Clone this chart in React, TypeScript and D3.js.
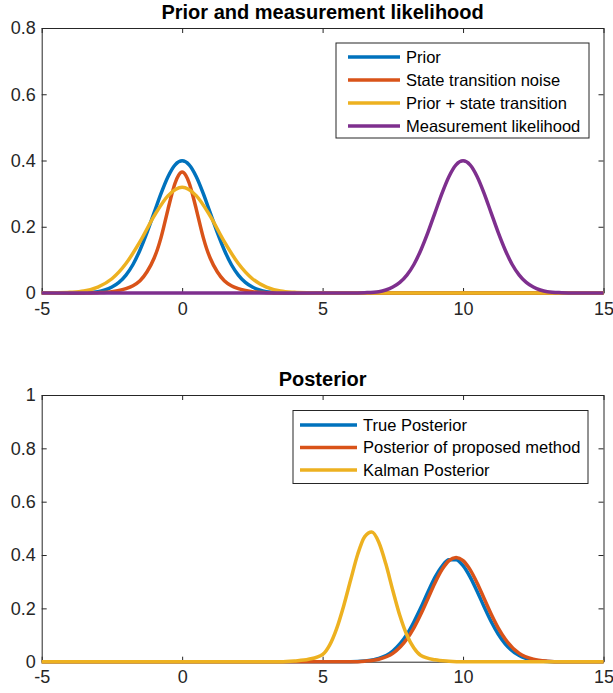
import React, { useRef, useEffect } from "react";
import * as d3 from "d3";

type Pt = [number, number];

// ---- top panel: prior and measurement likelihood ----
const priorPts: Pt[] = [
  [-5, 0], [-4, 0], [-3.5, 0.001], [-3, 0.004], [-2.75, 0.009], [-2.5, 0.018], [-2.25, 0.032],
  [-2, 0.054], [-1.75, 0.086], [-1.5, 0.13], [-1.25, 0.183], [-1, 0.242], [-0.75, 0.301],
  [-0.5, 0.352], [-0.25, 0.387], [0, 0.399], [0.25, 0.387], [0.5, 0.352], [0.75, 0.301],
  [1, 0.242], [1.25, 0.183], [1.5, 0.13], [1.75, 0.086], [2, 0.054], [2.25, 0.032],
  [2.5, 0.018], [2.75, 0.009], [3, 0.004], [3.5, 0.001], [4, 0], [15, 0],
];
const transitionPts: Pt[] = [
  [-5, 0], [-3.5, 0], [-3, 0.001], [-2.5, 0.004], [-2, 0.013], [-1.75, 0.022], [-1.5, 0.037],
  [-1.25, 0.064], [-1, 0.105], [-0.875, 0.133], [-0.75, 0.168], [-0.625, 0.21], [-0.5, 0.254],
  [-0.375, 0.296], [-0.25, 0.332], [-0.125, 0.356], [0, 0.365], [0.125, 0.356], [0.25, 0.332],
  [0.375, 0.296], [0.5, 0.254], [0.625, 0.21], [0.75, 0.168], [0.875, 0.133], [1, 0.105],
  [1.25, 0.064], [1.5, 0.037], [1.75, 0.022], [2, 0.013], [2.5, 0.004], [3, 0.001],
  [3.5, 0], [15, 0],
];
const priorPlusPts: Pt[] = [
  [-5, 0], [-4.5, 0.0005], [-4, 0.002], [-3.5, 0.006], [-3, 0.018], [-2.5, 0.043], [-2, 0.089],
  [-1.5, 0.155], [-1, 0.232], [-0.5, 0.294], [0, 0.319], [0.5, 0.294], [1, 0.232],
  [1.5, 0.155], [2, 0.089], [2.5, 0.043], [3, 0.018], [3.5, 0.006], [4, 0.002],
  [4.5, 0.0005], [5, 0], [15, 0],
];
const measurementPts: Pt[] = [
  [-5, 0], [6, 0], [6.5, 0.001], [7, 0.004], [7.25, 0.009], [7.5, 0.018], [7.75, 0.032],
  [8, 0.054], [8.25, 0.086], [8.5, 0.13], [8.75, 0.183], [9, 0.242], [9.25, 0.301],
  [9.5, 0.352], [9.75, 0.387], [10, 0.399], [10.25, 0.387], [10.5, 0.352], [10.75, 0.301],
  [11, 0.242], [11.25, 0.183], [11.5, 0.13], [11.75, 0.086], [12, 0.054], [12.25, 0.032],
  [12.5, 0.018], [12.75, 0.009], [13, 0.004], [13.5, 0.001], [14, 0], [15, 0],
];

// ---- bottom panel: posterior ----
const truePosteriorPts: Pt[] = [
  [-5, 0], [6, 0], [6.5, 0.003], [7, 0.012], [7.5, 0.04], [8, 0.102], [8.25, 0.149],
  [8.5, 0.203], [8.75, 0.261], [9, 0.316], [9.25, 0.358], [9.5, 0.382], [9.75, 0.382],
  [10, 0.36], [10.25, 0.318], [10.5, 0.264], [10.75, 0.206], [11, 0.151], [11.25, 0.104],
  [11.5, 0.067], [12, 0.023], [12.5, 0.006], [13, 0.001], [13.5, 0], [15, 0],
];
const proposedPts: Pt[] = [
  [-5, 0], [6, 0], [6.5, 0.002], [7, 0.009], [7.5, 0.031], [8, 0.085], [8.25, 0.127],
  [8.5, 0.179], [8.75, 0.237], [9, 0.295], [9.25, 0.345], [9.5, 0.379], [9.75, 0.391],
  [10, 0.379], [10.25, 0.345], [10.5, 0.295], [10.75, 0.237], [11, 0.179], [11.25, 0.127],
  [11.5, 0.085], [12, 0.031], [12.5, 0.009], [13, 0.002], [13.5, 0], [15, 0],
];
const kalmanPts: Pt[] = [
  [-5, 0], [3.5, 0], [4, 0.003], [4.5, 0.009], [5, 0.027], [5.25, 0.062], [5.5, 0.124],
  [5.75, 0.209], [6, 0.307], [6.25, 0.403], [6.5, 0.469], [6.75, 0.486], [7, 0.448],
  [7.25, 0.367], [7.5, 0.267], [7.75, 0.173], [8, 0.1], [8.25, 0.051], [8.5, 0.023],
  [9, 0.007], [9.5, 0.002], [10, 0], [15, 0],
];

const topNames = ["Prior", "State transition noise", "Prior + state transition", "Measurement likelihood"];
const bottomNames = ["True Posterior", "Posterior of proposed method", "Kalman Posterior"];
const xTicks = [-5, 0, 5, 10, 15];
const topYTicks = [0, 0.2, 0.4, 0.6, 0.8];
const bottomYTicks = [0, 0.2, 0.4, 0.6, 0.8, 1];
const colors = ["#0072BD", "#D95319", "#EDB120", "#7E2F8E"];

const FONT = "'Liberation Sans', Arial, Helvetica, sans-serif";
const INK = "#262626";
const left = 41.7;
const right = 603.5;

const drawPanel = (svg, cfg) => {
  const x = d3.scaleLinear().domain([-5, 15]).range([left, right]);
  const y = d3.scaleLinear().domain([0, cfg.yMax]).range([cfg.bottom, cfg.top]);
  const g = svg.append("g");

  const styleAxis = (a) => {
    a.selectAll("path, line").attr("stroke", INK).attr("stroke-width", 1);
    a.selectAll("text").attr("fill", INK).attr("font-size", 18).attr("font-family", FONT);
  };
  const plain = (d) => String(d); // hyphen minus like matlab

  g.append("g").attr("transform", `translate(0,${cfg.bottom})`)
    .call(d3.axisBottom(x).tickValues(xTicks).tickSizeInner(-5).tickSizeOuter(0).tickPadding(9)
      .tickFormat(plain))
    .call(styleAxis);
  g.append("g").attr("transform", `translate(0,${cfg.top})`)
    .call(d3.axisTop(x).tickValues(xTicks).tickSizeInner(-5).tickSizeOuter(0).tickFormat(() => ""))
    .call(styleAxis);
  g.append("g").attr("transform", `translate(${left},0)`)
    .call(d3.axisLeft(y).tickValues(cfg.yTicks).tickSizeInner(-5).tickSizeOuter(0).tickPadding(6)
      .tickFormat(plain))
    .call(styleAxis);
  g.append("g").attr("transform", `translate(${right},0)`)
    .call(d3.axisRight(y).tickValues(cfg.yTicks).tickSizeInner(-5).tickSizeOuter(0).tickFormat(() => ""))
    .call(styleAxis);

  const line = d3.line<Pt>()
    .x(d => x(d[0]))
    .y(d => y(d[1]))
    .curve(d3.curveMonotoneX);

  cfg.series.forEach((s, i) => {
    g.append("path")
      .attr("d", line(s))
      .attr("fill", "none")
      .attr("stroke", colors[i])
      .attr("stroke-width", 3.5)
      .attr("stroke-linejoin", "round");
  });

  g.append("text")
    .attr("x", (left + right) / 2)
    .attr("y", cfg.top - 9)
    .attr("text-anchor", "middle")
    .attr("font-family", FONT)
    .attr("font-weight", "bold")
    .attr("font-size", 20)
    .attr("fill", "#000")
    .text(cfg.title);

  const L = cfg.legend;
  g.append("rect")
    .attr("x", L.x).attr("y", L.y).attr("width", L.w).attr("height", L.h)
    .attr("fill", "#fff").attr("stroke", INK).attr("stroke-width", 1);
  cfg.names.forEach((name, i) => {
    const ry = L.row0 + i * L.dy;
    g.append("line")
      .attr("x1", L.l0).attr("x2", L.l1).attr("y1", ry).attr("y2", ry)
      .attr("stroke", colors[i]).attr("stroke-width", 3.5);
    g.append("text")
      .attr("x", L.tx).attr("y", ry).attr("dy", "0.36em")
      .attr("font-family", FONT).attr("font-size", 16.5).attr("fill", "#000")
      .text(name);
  });
};

const App = () => {
  const ref = useRef(null);

  useEffect(() => {
    const svg = d3.select(ref.current);
    svg.selectAll("*").remove();

    drawPanel(svg, {
      top: 28, bottom: 293, yMax: 0.8, yTicks: topYTicks,
      title: "Prior and measurement likelihood",
      series: [priorPts, transitionPts, priorPlusPts, measurementPts],
      names: topNames,
      legend: { x: 336, y: 43, w: 253, h: 95, l0: 348, l1: 400, tx: 406, row0: 57, dy: 23 },
    });
    drawPanel(svg, {
      top: 395, bottom: 661.7, yMax: 1, yTicks: bottomYTicks,
      title: "Posterior",
      series: [truePosteriorPts, proposedPts, kalmanPts],
      names: bottomNames,
      legend: { x: 293, y: 410.5, w: 295, h: 73, l0: 300, l1: 357, tx: 363, row0: 425, dy: 22.5 },
    });
  }, []);

  return (
    <svg ref={ref} width={613} height={693}
      style={{ position: "absolute", left: 0, top: 0, background: "#fff" }} />
  );
};

export default App;
